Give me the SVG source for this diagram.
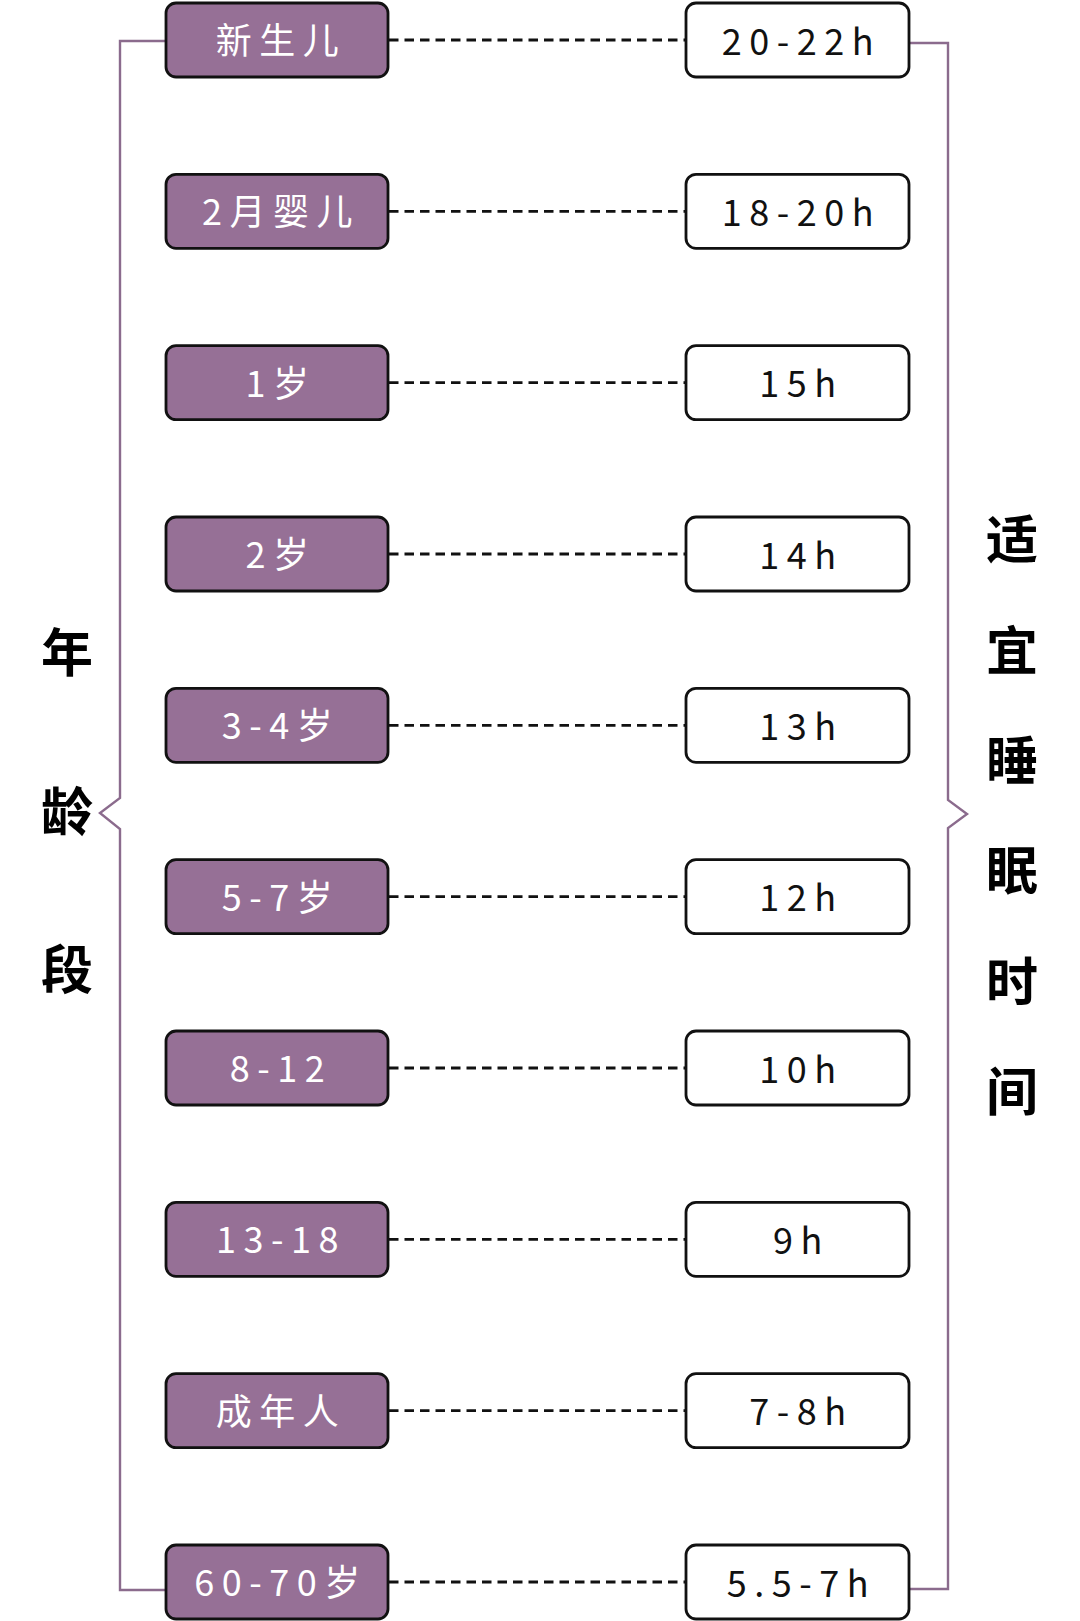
<svg xmlns="http://www.w3.org/2000/svg" width="1080" height="1621" viewBox="0 0 1080 1621">
<style>
.age rect{fill:#967096;stroke:#111;stroke-width:2.8}
.hrs rect{fill:#fff;stroke:#111;stroke-width:2.8}
.age text{fill:#fff}
.hrs text{fill:#111}
text.lbl{font-family:"Noto Sans CJK SC","Noto Sans",sans-serif;font-size:36px;letter-spacing:7.5px;text-anchor:middle}
.title{font-family:"Noto Sans CJK SC",sans-serif;font-size:52px;font-weight:bold;fill:#000;text-anchor:middle}
.dash{stroke:#111;stroke-width:2.8;stroke-dasharray:9.5 6;fill:none}
.brk{stroke:#8b6b8d;stroke-width:2.4;fill:none}
</style>
<rect width="1080" height="1621" fill="#fff"/>
<g id="connectors">
<path class="brk" d="M166 41H120V798L100 813L120 829V1590H166"/>
<path class="brk" d="M909 43H948V800L967 814L948 828V1589H909"/>
<line class="dash" x1="389" y1="40" x2="685" y2="40"/>
<line class="dash" x1="389" y1="211.3" x2="685" y2="211.3"/>
<line class="dash" x1="389" y1="382.7" x2="685" y2="382.7"/>
<line class="dash" x1="389" y1="554" x2="685" y2="554"/>
<line class="dash" x1="389" y1="725.3" x2="685" y2="725.3"/>
<line class="dash" x1="389" y1="896.7" x2="685" y2="896.7"/>
<line class="dash" x1="389" y1="1068" x2="685" y2="1068"/>
<line class="dash" x1="389" y1="1239.3" x2="685" y2="1239.3"/>
<line class="dash" x1="389" y1="1410.7" x2="685" y2="1410.7"/>
<line class="dash" x1="389" y1="1582" x2="685" y2="1582"/>
</g>
<g id="age-newborn" class="age"><rect x="166" y="3" width="222" height="74" rx="10"/><text class="lbl" x="281" y="54">新生儿</text></g>
<g id="age-2m" class="age"><rect x="166" y="174.3" width="222" height="74" rx="10"/><text class="lbl" x="281" y="225.3">2月婴儿</text></g>
<g id="age-1y" class="age"><rect x="166" y="345.7" width="222" height="74" rx="10"/><text class="lbl" x="281" y="396.7">1岁</text></g>
<g id="age-2y" class="age"><rect x="166" y="517" width="222" height="74" rx="10"/><text class="lbl" x="281" y="568">2岁</text></g>
<g id="age-3-4" class="age"><rect x="166" y="688.3" width="222" height="74" rx="10"/><text class="lbl" x="281" y="739.3">3-4岁</text></g>
<g id="age-5-7" class="age"><rect x="166" y="859.7" width="222" height="74" rx="10"/><text class="lbl" x="281" y="910.7">5-7岁</text></g>
<g id="age-8-12" class="age"><rect x="166" y="1031" width="222" height="74" rx="10"/><text class="lbl" x="281" y="1082">8-12</text></g>
<g id="age-13-18" class="age"><rect x="166" y="1202.3" width="222" height="74" rx="10"/><text class="lbl" x="281" y="1253.3">13-18</text></g>
<g id="age-adult" class="age"><rect x="166" y="1373.7" width="222" height="74" rx="10"/><text class="lbl" x="281" y="1424.7">成年人</text></g>
<g id="age-60-70" class="age"><rect x="166" y="1545" width="222" height="74" rx="10"/><text class="lbl" x="281" y="1596">60-70岁</text></g>
<g id="hrs-1" class="hrs"><rect x="686" y="3" width="223" height="74" rx="10"/><text class="lbl" x="801.5" y="54.5">20-22h</text></g>
<g id="hrs-2" class="hrs"><rect x="686" y="174.3" width="223" height="74" rx="10"/><text class="lbl" x="801.5" y="225.8">18-20h</text></g>
<g id="hrs-3" class="hrs"><rect x="686" y="345.7" width="223" height="74" rx="10"/><text class="lbl" x="801.5" y="397.2">15h</text></g>
<g id="hrs-4" class="hrs"><rect x="686" y="517" width="223" height="74" rx="10"/><text class="lbl" x="801.5" y="568.5">14h</text></g>
<g id="hrs-5" class="hrs"><rect x="686" y="688.3" width="223" height="74" rx="10"/><text class="lbl" x="801.5" y="739.8">13h</text></g>
<g id="hrs-6" class="hrs"><rect x="686" y="859.7" width="223" height="74" rx="10"/><text class="lbl" x="801.5" y="911.2">12h</text></g>
<g id="hrs-7" class="hrs"><rect x="686" y="1031" width="223" height="74" rx="10"/><text class="lbl" x="801.5" y="1082.5">10h</text></g>
<g id="hrs-8" class="hrs"><rect x="686" y="1202.3" width="223" height="74" rx="10"/><text class="lbl" x="801.5" y="1253.8">9h</text></g>
<g id="hrs-9" class="hrs"><rect x="686" y="1373.7" width="223" height="74" rx="10"/><text class="lbl" x="801.5" y="1425.2">7-8h</text></g>
<g id="hrs-10" class="hrs"><rect x="686" y="1545" width="223" height="74" rx="10"/><text class="lbl" x="801.5" y="1596.5">5.5-7h</text></g>
<g id="title-age">
<text class="title" x="67" y="672">年</text>
<text class="title" x="67" y="831">龄</text>
<text class="title" x="67" y="989">段</text>
</g>
<g id="title-sleep">
<text class="title" x="1012" y="559">适</text>
<text class="title" x="1012" y="670">宜</text>
<text class="title" x="1012" y="780">睡</text>
<text class="title" x="1012" y="890">眠</text>
<text class="title" x="1012" y="1001">时</text>
<text class="title" x="1012" y="1111">间</text>
</g>
</svg>
